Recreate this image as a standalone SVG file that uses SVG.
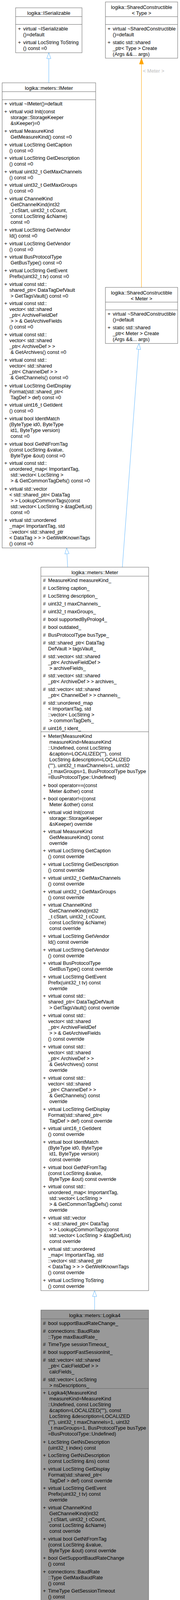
<svg xmlns="http://www.w3.org/2000/svg" width="461" height="4628" viewBox="0 0 461 4628">
<style>
text{font-family:"Liberation Sans",Arial,Helvetica,sans-serif;font-size:12.8px;fill:#000}
.t{text-anchor:middle}
.n rect{fill:#fff;stroke:#666;stroke-width:1}
.n line{stroke:#666;stroke-width:1}
.hl rect{fill:#999}
.e{fill:none;stroke:#63b8ff;stroke-width:1;marker-end:url(#inh)}
.o{fill:none;stroke:#ffa500;stroke-width:1;marker-end:url(#tpl)}
.lbl{fill:#bebebe}
</style>
<defs>
<marker id="inh" markerUnits="userSpaceOnUse" markerWidth="17" markerHeight="13" viewBox="-1 -6.5 17 13" refX="15" refY="0" orient="auto"><path d="M0,-5.3 L15,0 L0,5.3 Z" fill="#fff" stroke="#63b8ff"/></marker>
<marker id="tpl" markerUnits="userSpaceOnUse" markerWidth="17" markerHeight="13" viewBox="-1 -6.5 17 13" refX="15" refY="0" orient="auto"><path d="M0,-5.3 L15,0 L0,5.3 Z" fill="#ffa500" stroke="#ffa500"/></marker>
</defs>
<rect width="461" height="4628" fill="#fff"/>

<g id="edges">
<path class="e" d="M125,212 L125,135"/>
<path class="e" d="M173.3,1452 L170.7,1402.7"/>
<path class="e" d="M313.3,1452 L356,879.3"/>
<path class="e" d="M242.3,3353.7 L242.3,3304"/>
<path class="o" d="M362.3,735.7 L362.3,149"/>
<text class="lbl" x="366" y="186.2">&lt; Meter &gt;</text>
</g>

<g id="ISerializable" class="n">
<rect x="40" y="20" width="170" height="115"/>
<line x1="40" y1="42.5" x2="210" y2="42.5"/>
<line x1="40" y1="62.5" x2="210" y2="62.5"/>
<text class="t" x="125" y="37.8">logika::ISerializable</text>
<text y="77.8"><tspan x="46">+</tspan><tspan x="59.3">virtual ~ISerializable</tspan><tspan x="59.3" dy="15">()=default</tspan></text>
<text y="112.8"><tspan x="46">+</tspan><tspan x="59.3">virtual LocString ToString</tspan><tspan x="59.3" dy="15">() const =0</tspan></text>
</g>

<g id="SharedConstructibleType" class="n">
<rect x="270" y="5" width="185" height="144"/>
<line x1="270" y1="42.7" x2="455" y2="42.7"/>
<line x1="270" y1="62.7" x2="455" y2="62.7"/>
<text class="t" x="362.5" y="22.8">logika::SharedConstructible</text>
<text class="t" x="362.5" y="37.8">&lt; Type &gt;</text>
<text y="77.8"><tspan x="275.5">+</tspan><tspan x="288.7">virtual ~SharedConstructible</tspan><tspan x="288.7" dy="15">()=default</tspan></text>
<text y="112.8"><tspan x="275.5">+</tspan><tspan x="288.7">static std::shared</tspan><tspan x="288.7" dy="15">_ptr&lt; Type &gt; Create</tspan><tspan x="288.7" dy="15">(Args &amp;&amp;... args)</tspan></text>
</g>

<g id="SharedConstructibleMeter" class="n">
<rect x="270" y="735.7" width="185" height="143.6"/>
<line x1="270" y1="773.4" x2="455" y2="773.4"/>
<line x1="270" y1="793.3" x2="455" y2="793.3"/>
<text class="t" x="362.5" y="753.5">logika::SharedConstructible</text>
<text class="t" x="362.5" y="768.5">&lt; Meter &gt;</text>
<text y="807.8"><tspan x="275.5">+</tspan><tspan x="288.7">virtual ~SharedConstructible</tspan><tspan x="288.7" dy="15">()=default</tspan></text>
<text y="842.8"><tspan x="275.5">+</tspan><tspan x="288.7">static std::shared</tspan><tspan x="288.7" dy="15">_ptr&lt; Meter &gt; Create</tspan><tspan x="288.7" dy="15">(Args &amp;&amp;... args)</tspan></text>
</g>

<g id="IMeter" class="n">
<rect x="5.5" y="212" width="239.5" height="1190.7"/>
<line x1="5.5" y1="234.7" x2="245" y2="234.7"/>
<line x1="5.5" y1="255.3" x2="245" y2="255.3"/>
<text class="t" x="125.2" y="230.2">logika::meters::IMeter</text>
<text y="270.2"><tspan x="11">+</tspan><tspan x="24">virtual ~IMeter()=default</tspan></text>
<text y="290.2"><tspan x="11">+</tspan><tspan x="24">virtual void Init(const</tspan><tspan x="27" dy="15">storage::StorageKeeper</tspan><tspan x="27" dy="15">&amp;sKeeper)=0</tspan></text>
<text y="339.5"><tspan x="11">+</tspan><tspan x="24">virtual MeasureKind</tspan><tspan x="27" dy="15">GetMeasureKind() const =0</tspan></text>
<text y="374.5"><tspan x="11">+</tspan><tspan x="24">virtual LocString GetCaption</tspan><tspan x="24" dy="15">() const =0</tspan></text>
<text y="408.8"><tspan x="11">+</tspan><tspan x="24">virtual LocString GetDescription</tspan><tspan x="24" dy="15">() const =0</tspan></text>
<text y="443.5"><tspan x="11">+</tspan><tspan x="24">virtual uint32_t GetMaxChannels</tspan><tspan x="24" dy="15">() const =0</tspan></text>
<text y="478.2"><tspan x="11">+</tspan><tspan x="24">virtual uint32_t GetMaxGroups</tspan><tspan x="24" dy="15">() const =0</tspan></text>
<text y="512.8"><tspan x="11">+</tspan><tspan x="24">virtual ChannelKind</tspan><tspan x="27" dy="15">GetChannelKind(int32</tspan><tspan x="24" dy="15">_t cStart, uint32_t cCount,</tspan><tspan x="27" dy="15">const LocString &amp;cName)</tspan><tspan x="27" dy="15">const =0</tspan></text>
<text y="592.8"><tspan x="11">+</tspan><tspan x="24">virtual LocString GetVendor</tspan><tspan x="24" dy="15">Id() const =0</tspan></text>
<text y="627.5"><tspan x="11">+</tspan><tspan x="24">virtual LocString GetVendor</tspan><tspan x="24" dy="15">() const =0</tspan></text>
<text y="662.2"><tspan x="11">+</tspan><tspan x="24">virtual BusProtocolType</tspan><tspan x="27" dy="15">GetBusType() const =0</tspan></text>
<text y="696.8"><tspan x="11">+</tspan><tspan x="24">virtual LocString GetEvent</tspan><tspan x="24" dy="15">Prefix(uint32_t tv) const =0</tspan></text>
<text y="731.5"><tspan x="11">+</tspan><tspan x="24">virtual const std::</tspan><tspan x="24" dy="15">shared_ptr&lt; DataTagDefVault</tspan><tspan x="27" dy="15">&gt; GetTagsVault() const =0</tspan></text>
<text y="781.2"><tspan x="11">+</tspan><tspan x="24">virtual const std::</tspan><tspan x="24" dy="15">vector&lt; std::shared</tspan><tspan x="24" dy="15">_ptr&lt; ArchiveFieldDef</tspan><tspan x="27" dy="15">&gt; &gt; &amp; GetArchiveFields</tspan><tspan x="24" dy="15">() const =0</tspan></text>
<text y="861.2"><tspan x="11">+</tspan><tspan x="24">virtual const std::</tspan><tspan x="24" dy="15">vector&lt; std::shared</tspan><tspan x="24" dy="15">_ptr&lt; ArchiveDef &gt; &gt;</tspan><tspan x="27" dy="15">&amp; GetArchives() const =0</tspan></text>
<text y="926.2"><tspan x="11">+</tspan><tspan x="24">virtual const std::</tspan><tspan x="24" dy="15">vector&lt; std::shared</tspan><tspan x="24" dy="15">_ptr&lt; ChannelDef &gt; &gt;</tspan><tspan x="27" dy="15">&amp; GetChannels() const =0</tspan></text>
<text y="991.8"><tspan x="11">+</tspan><tspan x="24">virtual LocString GetDisplay</tspan><tspan x="24" dy="15">Format(std::shared_ptr&lt;</tspan><tspan x="27" dy="15">TagDef &gt; def) const =0</tspan></text>
<text y="1041.2"><tspan x="11">+</tspan><tspan x="24">virtual uint16_t GetIdent</tspan><tspan x="24" dy="15">() const =0</tspan></text>
<text y="1075.5"><tspan x="11">+</tspan><tspan x="24">virtual bool IdentMatch</tspan><tspan x="24" dy="15">(ByteType id0, ByteType</tspan><tspan x="27" dy="15">id1, ByteType version)</tspan><tspan x="27" dy="15">const =0</tspan></text>
<text y="1141.2"><tspan x="11">+</tspan><tspan x="24">virtual bool GetNtFromTag</tspan><tspan x="24" dy="15">(const LocString &amp;value,</tspan><tspan x="27" dy="15">ByteType &amp;out) const =0</tspan></text>
<text y="1190.2"><tspan x="11">+</tspan><tspan x="24">virtual const std::</tspan><tspan x="24" dy="15">unordered_map&lt; ImportantTag,</tspan><tspan x="27" dy="15">std::vector&lt; LocString &gt;</tspan><tspan x="27" dy="15">&gt; &amp; GetCommonTagDefs() const =0</tspan></text>
<text y="1255.8"><tspan x="11">+</tspan><tspan x="24">virtual std::vector</tspan><tspan x="24" dy="15">&lt; std::shared_ptr&lt; DataTag</tspan><tspan x="27" dy="15">&gt; &gt; LookupCommonTags(const</tspan><tspan x="27" dy="15">std::vector&lt; LocString &gt; &amp;tagDefList)</tspan><tspan x="27" dy="15">const =0</tspan></text>
<text y="1335.8"><tspan x="11">+</tspan><tspan x="24">virtual std::unordered</tspan><tspan x="24" dy="15">_map&lt; ImportantTag, std</tspan><tspan x="24" dy="15">::vector&lt; std::shared_ptr</tspan><tspan x="24" dy="15">&lt; DataTag &gt; &gt; &gt; GetWellKnownTags</tspan><tspan x="24" dy="15">() const =0</tspan></text>
</g>

<g id="Meter" class="n">
<rect x="104.7" y="1452" width="276" height="1852"/>
<line x1="104.7" y1="1475" x2="380.7" y2="1475"/>
<line x1="104.7" y1="1873.3" x2="380.7" y2="1873.3"/>
<text class="t" x="242.7" y="1469.8">logika::meters::Meter</text>
<text y="1489.8"><tspan x="110">#</tspan><tspan x="123.3">MeasureKind measureKind_</tspan></text>
<text y="1509.8"><tspan x="110">#</tspan><tspan x="123.3">LocString caption_</tspan></text>
<text y="1529.8"><tspan x="110">#</tspan><tspan x="123.3">LocString description_</tspan></text>
<text y="1550.2"><tspan x="110">#</tspan><tspan x="123.3">uint32_t maxChannels_</tspan></text>
<text y="1570.2"><tspan x="110">#</tspan><tspan x="123.3">uint32_t maxGroups_</tspan></text>
<text y="1590.2"><tspan x="110">#</tspan><tspan x="123.3">bool supportedByProlog4_</tspan></text>
<text y="1610.2"><tspan x="110">#</tspan><tspan x="123.3">bool outdated_</tspan></text>
<text y="1630.2"><tspan x="110">#</tspan><tspan x="123.3">BusProtocolType busType_</tspan></text>
<text y="1650.2"><tspan x="110">#</tspan><tspan x="123.3">std::shared_ptr&lt; DataTag</tspan><tspan x="123.3" dy="15">DefVault &gt; tagsVault_</tspan></text>
<text y="1684.8"><tspan x="110">#</tspan><tspan x="123.3">std::vector&lt; std::shared</tspan><tspan x="123.3" dy="15">_ptr&lt; ArchiveFieldDef &gt;</tspan><tspan x="126.3" dy="15">&gt; archiveFields_</tspan></text>
<text y="1733.8"><tspan x="110">#</tspan><tspan x="123.3">std::vector&lt; std::shared</tspan><tspan x="123.3" dy="15">_ptr&lt; ArchiveDef &gt; &gt; archives_</tspan></text>
<text y="1768.8"><tspan x="110">#</tspan><tspan x="123.3">std::vector&lt; std::shared</tspan><tspan x="123.3" dy="15">_ptr&lt; ChannelDef &gt; &gt; channels_</tspan></text>
<text y="1803.5"><tspan x="110">#</tspan><tspan x="123.3">std::unordered_map</tspan><tspan x="123.3" dy="15">&lt; ImportantTag, std</tspan><tspan x="123.3" dy="15">::vector&lt; LocString &gt;</tspan><tspan x="126.3" dy="15">&gt; commonTagDefs_</tspan></text>
<text y="1868.5"><tspan x="110">#</tspan><tspan x="123.3">uint16_t ident_</tspan></text>
<text y="1888.8"><tspan x="110">+</tspan><tspan x="123.3">Meter(MeasureKind</tspan><tspan x="126.3" dy="15">measureKind=MeasureKind</tspan><tspan x="123.3" dy="15">::Undefined, const LocString</tspan><tspan x="126.3" dy="15">&amp;caption=LOCALIZED(""), const</tspan><tspan x="126.3" dy="15">LocString &amp;description=LOCALIZED</tspan><tspan x="123.3" dy="15">(""), uint32_t maxChannels=1, uint32</tspan><tspan x="123.3" dy="15">_t maxGroups=1, BusProtocolType busType</tspan><tspan x="123.3" dy="15">=BusProtocolType::Undefined)</tspan></text>
<text y="2014.5"><tspan x="110">+</tspan><tspan x="123.3">bool operator==(const</tspan><tspan x="126.3" dy="15">Meter &amp;other) const</tspan></text>
<text y="2048.8"><tspan x="110">+</tspan><tspan x="123.3">bool operator!=(const</tspan><tspan x="126.3" dy="15">Meter &amp;other) const</tspan></text>
<text y="2083.8"><tspan x="110">+</tspan><tspan x="123.3">virtual void Init(const</tspan><tspan x="126.3" dy="15">storage::StorageKeeper</tspan><tspan x="126.3" dy="15">&amp;sKeeper) override</tspan></text>
<text y="2132.8"><tspan x="110">+</tspan><tspan x="123.3">virtual MeasureKind</tspan><tspan x="126.3" dy="15">GetMeasureKind() const</tspan><tspan x="126.3" dy="15">override</tspan></text>
<text y="2182.2"><tspan x="110">+</tspan><tspan x="123.3">virtual LocString GetCaption</tspan><tspan x="123.3" dy="15">() const override</tspan></text>
<text y="2216.8"><tspan x="110">+</tspan><tspan x="123.3">virtual LocString GetDescription</tspan><tspan x="123.3" dy="15">() const override</tspan></text>
<text y="2251.8"><tspan x="110">+</tspan><tspan x="123.3">virtual uint32_t GetMaxChannels</tspan><tspan x="123.3" dy="15">() const override</tspan></text>
<text y="2286.5"><tspan x="110">+</tspan><tspan x="123.3">virtual uint32_t GetMaxGroups</tspan><tspan x="123.3" dy="15">() const override</tspan></text>
<text y="2320.8"><tspan x="110">+</tspan><tspan x="123.3">virtual ChannelKind</tspan><tspan x="126.3" dy="15">GetChannelKind(int32</tspan><tspan x="123.3" dy="15">_t cStart, uint32_t cCount,</tspan><tspan x="126.3" dy="15">const LocString &amp;cName)</tspan><tspan x="126.3" dy="15">const override</tspan></text>
<text y="2400.8"><tspan x="110">+</tspan><tspan x="123.3">virtual LocString GetVendor</tspan><tspan x="123.3" dy="15">Id() const override</tspan></text>
<text y="2435.8"><tspan x="110">+</tspan><tspan x="123.3">virtual LocString GetVendor</tspan><tspan x="123.3" dy="15">() const override</tspan></text>
<text y="2470.2"><tspan x="110">+</tspan><tspan x="123.3">virtual BusProtocolType</tspan><tspan x="126.3" dy="15">GetBusType() const override</tspan></text>
<text y="2504.8"><tspan x="110">+</tspan><tspan x="123.3">virtual LocString GetEvent</tspan><tspan x="123.3" dy="15">Prefix(uint32_t tv) const</tspan><tspan x="126.3" dy="15">override</tspan></text>
<text y="2554.2"><tspan x="110">+</tspan><tspan x="123.3">virtual const std::</tspan><tspan x="123.3" dy="15">shared_ptr&lt; DataTagDefVault</tspan><tspan x="126.3" dy="15">&gt; GetTagsVault() const override</tspan></text>
<text y="2603.5"><tspan x="110">+</tspan><tspan x="123.3">virtual const std::</tspan><tspan x="123.3" dy="15">vector&lt; std::shared</tspan><tspan x="123.3" dy="15">_ptr&lt; ArchiveFieldDef</tspan><tspan x="126.3" dy="15">&gt; &gt; &amp; GetArchiveFields</tspan><tspan x="123.3" dy="15">() const override</tspan></text>
<text y="2683.8"><tspan x="110">+</tspan><tspan x="123.3">virtual const std::</tspan><tspan x="123.3" dy="15">vector&lt; std::shared</tspan><tspan x="123.3" dy="15">_ptr&lt; ArchiveDef &gt; &gt;</tspan><tspan x="126.3" dy="15">&amp; GetArchives() const</tspan><tspan x="126.3" dy="15">override</tspan></text>
<text y="2763.8"><tspan x="110">+</tspan><tspan x="123.3">virtual const std::</tspan><tspan x="123.3" dy="15">vector&lt; std::shared</tspan><tspan x="123.3" dy="15">_ptr&lt; ChannelDef &gt; &gt;</tspan><tspan x="126.3" dy="15">&amp; GetChannels() const</tspan><tspan x="126.3" dy="15">override</tspan></text>
<text y="2843.8"><tspan x="110">+</tspan><tspan x="123.3">virtual LocString GetDisplay</tspan><tspan x="123.3" dy="15">Format(std::shared_ptr&lt;</tspan><tspan x="126.3" dy="15">TagDef &gt; def) const override</tspan></text>
<text y="2892.8"><tspan x="110">+</tspan><tspan x="123.3">virtual uint16_t GetIdent</tspan><tspan x="123.3" dy="15">() const override</tspan></text>
<text y="2927.8"><tspan x="110">+</tspan><tspan x="123.3">virtual bool IdentMatch</tspan><tspan x="123.3" dy="15">(ByteType id0, ByteType</tspan><tspan x="126.3" dy="15">id1, ByteType version)</tspan><tspan x="126.3" dy="15">const override</tspan></text>
<text y="2992.8"><tspan x="110">+</tspan><tspan x="123.3">virtual bool GetNtFromTag</tspan><tspan x="123.3" dy="15">(const LocString &amp;value,</tspan><tspan x="126.3" dy="15">ByteType &amp;out) const override</tspan></text>
<text y="3042.2"><tspan x="110">+</tspan><tspan x="123.3">virtual const std::</tspan><tspan x="123.3" dy="15">unordered_map&lt; ImportantTag,</tspan><tspan x="126.3" dy="15">std::vector&lt; LocString &gt;</tspan><tspan x="126.3" dy="15">&gt; &amp; GetCommonTagDefs() const</tspan><tspan x="126.3" dy="15">override</tspan></text>
<text y="3122.2"><tspan x="110">+</tspan><tspan x="123.3">virtual std::vector</tspan><tspan x="123.3" dy="15">&lt; std::shared_ptr&lt; DataTag</tspan><tspan x="126.3" dy="15">&gt; &gt; LookupCommonTags(const</tspan><tspan x="126.3" dy="15">std::vector&lt; LocString &gt; &amp;tagDefList)</tspan><tspan x="126.3" dy="15">const override</tspan></text>
<text y="3202.2"><tspan x="110">+</tspan><tspan x="123.3">virtual std::unordered</tspan><tspan x="123.3" dy="15">_map&lt; ImportantTag, std</tspan><tspan x="123.3" dy="15">::vector&lt; std::shared_ptr</tspan><tspan x="123.3" dy="15">&lt; DataTag &gt; &gt; &gt; GetWellKnownTags</tspan><tspan x="123.3" dy="15">() const override</tspan></text>
<text y="3282.2"><tspan x="110">+</tspan><tspan x="123.3">virtual LocString ToString</tspan><tspan x="123.3" dy="15">() const override</tspan></text>
</g>

<g id="Logika4" class="n hl">
<rect x="104.7" y="3353.7" width="276" height="1269.3"/>
<line x1="104.7" y1="3376.3" x2="380.7" y2="3376.3"/>
<line x1="104.7" y1="3554.7" x2="380.7" y2="3554.7"/>
<text class="t" x="242.7" y="3371.5">logika::meters::Logika4</text>
<text y="3391.5"><tspan x="110">#</tspan><tspan x="123.3">bool supportBaudRateChange_</tspan></text>
<text y="3411.5"><tspan x="110">#</tspan><tspan x="123.3">connections::BaudRate</tspan><tspan x="123.3" dy="15">::Type maxBaudRate_</tspan></text>
<text y="3445.8"><tspan x="110">#</tspan><tspan x="123.3">TimeType sessionTimeout_</tspan></text>
<text y="3465.8"><tspan x="110">#</tspan><tspan x="123.3">bool supportFastSessionInit_</tspan></text>
<text y="3485.8"><tspan x="110">#</tspan><tspan x="123.3">std::vector&lt; std::shared</tspan><tspan x="123.3" dy="15">_ptr&lt; CalcFieldDef &gt; &gt;</tspan><tspan x="126.3" dy="15">calcFields_</tspan></text>
<text y="3535.8"><tspan x="110">#</tspan><tspan x="123.3">std::vector&lt; LocString</tspan><tspan x="126.3" dy="15">&gt; nsDescriptions_</tspan></text>
<text y="3570.2"><tspan x="110">+</tspan><tspan x="123.3">Logika4(MeasureKind</tspan><tspan x="126.3" dy="15">measureKind=MeasureKind</tspan><tspan x="123.3" dy="15">::Undefined, const LocString</tspan><tspan x="126.3" dy="15">&amp;caption=LOCALIZED(""), const</tspan><tspan x="126.3" dy="15">LocString &amp;description=LOCALIZED</tspan><tspan x="123.3" dy="15">(""), uint32_t maxChannels=1, uint32</tspan><tspan x="123.3" dy="15">_t maxGroups=1, BusProtocolType busType</tspan><tspan x="123.3" dy="15">=BusProtocolType::Undefined)</tspan></text>
<text y="3695.8"><tspan x="110">+</tspan><tspan x="123.3">LocString GetNsDescription</tspan><tspan x="123.3" dy="15">(uint32_t index) const</tspan></text>
<text y="3730.2"><tspan x="110">+</tspan><tspan x="123.3">LocString GetNsDescription</tspan><tspan x="123.3" dy="15">(const LocString &amp;ns) const</tspan></text>
<text y="3764.8"><tspan x="110">+</tspan><tspan x="123.3">virtual LocString GetDisplay</tspan><tspan x="123.3" dy="15">Format(std::shared_ptr&lt;</tspan><tspan x="126.3" dy="15">TagDef &gt; def) const override</tspan></text>
<text y="3814.2"><tspan x="110">+</tspan><tspan x="123.3">virtual LocString GetEvent</tspan><tspan x="123.3" dy="15">Prefix(uint32_t tv) const</tspan><tspan x="126.3" dy="15">override</tspan></text>
<text y="3864.2"><tspan x="110">+</tspan><tspan x="123.3">virtual ChannelKind</tspan><tspan x="126.3" dy="15">GetChannelKind(int32</tspan><tspan x="123.3" dy="15">_t cStart, uint32_t cCount,</tspan><tspan x="126.3" dy="15">const LocString &amp;cName)</tspan><tspan x="126.3" dy="15">const override</tspan></text>
<text y="3944.2"><tspan x="110">+</tspan><tspan x="123.3">virtual bool GetNtFromTag</tspan><tspan x="123.3" dy="15">(const LocString &amp;value,</tspan><tspan x="126.3" dy="15">ByteType &amp;out) const override</tspan></text>
<text y="3992.8"><tspan x="110">+</tspan><tspan x="123.3">bool GetSupportBaudRateChange</tspan><tspan x="123.3" dy="15">() const</tspan></text>
<text y="4027.8"><tspan x="110">+</tspan><tspan x="123.3">connections::BaudRate</tspan><tspan x="123.3" dy="15">::Type GetMaxBaudRate</tspan><tspan x="123.3" dy="15">() const</tspan></text>
<text y="4076.8"><tspan x="110">+</tspan><tspan x="123.3">TimeType GetSessionTimeout</tspan><tspan x="123.3" dy="15">() const</tspan></text>
<text y="4111.8"><tspan x="110">+</tspan><tspan x="123.3">bool GetSupportFastSession</tspan><tspan x="123.3" dy="15">Init() const</tspan></text>
<text y="4145.8"><tspan x="110">+</tspan><tspan x="123.3">const std::vector&lt;</tspan><tspan x="126.3" dy="15">std::shared_ptr&lt; CalcField</tspan><tspan x="123.3" dy="15">Def &gt; &gt; &amp; GetCalculatedFields</tspan><tspan x="123.3" dy="15">() const</tspan></text>
<text y="4211.8"><tspan x="110">+</tspan><tspan x="123.3">virtual std::unordered</tspan><tspan x="123.3" dy="15">_map&lt; LocString, LocString</tspan><tspan x="126.3" dy="15">&gt; BuildEuDict(const std</tspan><tspan x="123.3" dy="15">::vector&lt; std::shared_ptr</tspan><tspan x="123.3" dy="15">&lt; DataTag &gt; &gt; &amp;euTags) const</tspan></text>
<text y="4291.8"><tspan x="110">+</tspan><tspan x="123.3">static LocString Display</tspan><tspan x="123.3" dy="15">Ns(const ByteVector &amp;values)</tspan></text>
<text y="4326.2"><tspan x="110">+</tspan><tspan x="123.3">static LocString GetGasPressure</tspan><tspan x="123.3" dy="15">Units(uint8_t euValue)</tspan></text>
<text y="4360.8"><tspan x="110">+</tspan><tspan x="123.3">static std::shared</tspan><tspan x="123.3" dy="15">_ptr&lt; Meter &gt; DetermineMeter</tspan><tspan x="123.3" dy="15">(ByteType id0, ByteType id1,</tspan><tspan x="126.3" dy="15">ByteType version, std::shared</tspan><tspan x="123.3" dy="15">_ptr&lt; storage::Storage&lt; LocString,</tspan><tspan x="126.3" dy="15">Meter &gt; &gt; meterStorage)</tspan></text>
<text y="4455.8"><tspan x="110">+</tspan><tspan x="123.3">static TimeType CombineDate</tspan><tspan x="123.3" dy="15">Time(const LocString &amp;date,</tspan><tspan x="126.3" dy="15">const LocString &amp;time)</tspan></text>
<text y="4504.8"><tspan x="110">+</tspan><tspan x="123.3">static ByteType CheckSum8</tspan><tspan x="123.3" dy="15">(const ByteVector &amp;buffer,</tspan><tspan x="126.3" dy="15">uint32_t start, uint32_t</tspan><tspan x="126.3" dy="15">length)</tspan></text>
<text y="4570.2"><tspan x="110">+</tspan><tspan x="123.3">static LocString GetEu</tspan><tspan x="123.3" dy="15">(const std::unordered</tspan><tspan x="123.3" dy="15">_map&lt; LocString, LocString</tspan><tspan x="126.3" dy="15">&gt; &amp;euDict, const LocString &amp;euDef)</tspan></text>
</g>
</svg>
